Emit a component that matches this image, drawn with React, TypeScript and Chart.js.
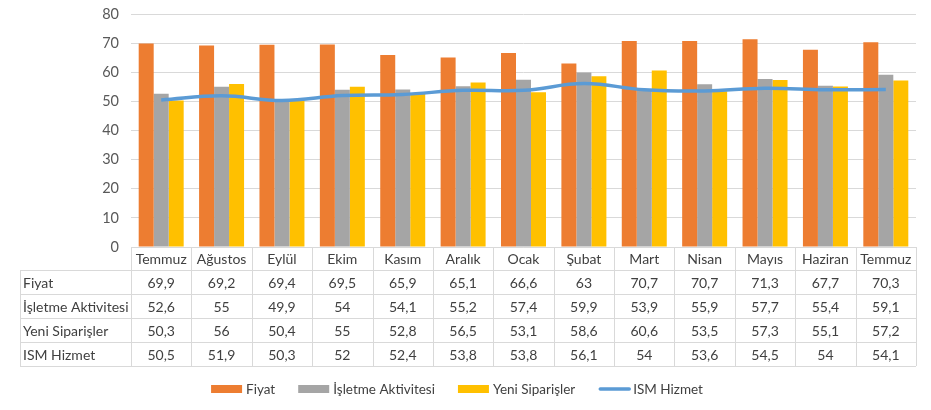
import { useEffect, useRef } from "react"
import { Chart, registerables } from "chart.js"

Chart.register(...registerables)

const months = ["Temmuz", "Ağustos", "Eylül", "Ekim", "Kasım", "Aralık", "Ocak", "Şubat", "Mart", "Nisan", "Mayıs", "Haziran", "Temmuz"]
const fiyat = [69.9, 69.2, 69.4, 69.5, 65.9, 65.1, 66.6, 63, 70.7, 70.7, 71.3, 67.7, 70.3]
const isletme = [52.6, 55, 49.9, 54, 54.1, 55.2, 57.4, 59.9, 53.9, 55.9, 57.7, 55.4, 59.1]
const yeniSiparis = [50.3, 56, 50.4, 55, 52.8, 56.5, 53.1, 58.6, 60.6, 53.5, 57.3, 55.1, 57.2]
const ismHizmet = [50.5, 51.9, 50.3, 52, 52.4, 53.8, 53.8, 56.1, 54, 53.6, 54.5, 54, 54.1]
const seriesNames = ["Fiyat", "İşletme Aktivitesi", "Yeni Siparişler", "ISM Hizmet"]
const seriesColors = ["#ED7D31", "#A5A5A5", "#FFC000", "#5B9BD5"]

const FONT = "Lato, 'Open Sans', sans-serif"
const TEXT = "#404040"
const GRID = "#D9D9D9"

// decimal comma like the Turkish Excel table
const fmt = (v: number) => String(v).replace(".", ",")

const tablePlugin = {
  id: "dataTable",
  afterDraw(chart: Chart) {
    const ctx = chart.ctx
    const x = chart.scales.x
    const area = chart.chartArea
    const colW = (area.right - area.left) / months.length
    const tableLeft = 20
    const rowH = 24
    const headTop = area.bottom
    const headBottom = headTop + 23
    const rows = [fiyat, isletme, yeniSiparis, ismHizmet]
    const bottom = headBottom + rows.length * rowH

    ctx.save()
    ctx.strokeStyle = GRID
    ctx.lineWidth = 1
    ctx.beginPath()
    // header top line across the category columns
    ctx.moveTo(area.left, headTop + 0.5)
    ctx.lineTo(area.right, headTop + 0.5)
    for (let r = 0; r <= rows.length; r++) {
      const y = Math.round(headBottom + r * rowH) + 0.5
      ctx.moveTo(tableLeft, y)
      ctx.lineTo(area.right, y)
    }
    ctx.moveTo(tableLeft + 0.5, headBottom)
    ctx.lineTo(tableLeft + 0.5, bottom)
    for (let i = 0; i <= months.length; i++) {
      const cx = Math.round(area.left + i * colW) + 0.5
      ctx.moveTo(cx, headTop)
      ctx.lineTo(cx, bottom)
    }
    ctx.stroke()

    ctx.fillStyle = TEXT
    ctx.font = `14px ${FONT}`
    ctx.textBaseline = "middle"
    ctx.textAlign = "center"
    months.forEach((m, i) => {
      ctx.fillText(m, x.getPixelForValue(i), (headTop + headBottom) / 2 + 1)
    })
    rows.forEach((vals, r) => {
      const cy = headBottom + r * rowH + rowH / 2 + 1
      ctx.textAlign = "left"
      ctx.fillText(seriesNames[r], tableLeft + 3, cy)
      ctx.textAlign = "center"
      vals.forEach((v, i) => ctx.fillText(fmt(v), x.getPixelForValue(i), cy))
    })

    // legend, centred under the table
    const legendY = 389
    const sw = 31
    const gap = 23
    ctx.font = `13.5px ${FONT}`
    ctx.textAlign = "left"
    const widths = seriesNames.map((n) => sw + 4 + ctx.measureText(n).width)
    const total = widths.reduce((a, b) => a + b, 0) + gap * (widths.length - 1)
    let lx = 457 - total / 2
    seriesNames.forEach((n, i) => {
      if (i === 3) {
        ctx.strokeStyle = seriesColors[i]
        ctx.lineWidth = 3.5
        ctx.lineCap = "round"
        ctx.beginPath()
        ctx.moveTo(lx + 2, legendY)
        ctx.lineTo(lx + sw, legendY)
        ctx.stroke()
      } else {
        ctx.fillStyle = seriesColors[i]
        ctx.fillRect(lx, legendY - 4, sw, 8)
      }
      ctx.fillStyle = TEXT
      ctx.fillText(n, lx + sw + 4, legendY + 1)
      lx += widths[i] + gap
    })
    ctx.restore()
  },
}

export default function App() {
  const chartRef = useRef<HTMLCanvasElement>(null)
  const chartInstance = useRef<Chart | null>(null)

  useEffect(() => {
    document.body.style.margin = "0"
    if (!chartRef.current) return
    if (chartInstance.current) chartInstance.current.destroy()

    const barDs = (i: number, data: number[]) => ({
      type: "bar" as const,
      label: seriesNames[i],
      data,
      backgroundColor: seriesColors[i],
      categoryPercentage: 0.745,
      barPercentage: 1,
      order: 1,
    })

    chartInstance.current = new Chart(chartRef.current, {
      type: "bar",
      data: {
        labels: months,
        datasets: [
          barDs(0, fiyat),
          barDs(1, isletme),
          barDs(2, yeniSiparis),
          {
            type: "line" as const,
            label: seriesNames[3],
            data: ismHizmet,
            borderColor: seriesColors[3],
            backgroundColor: seriesColors[3],
            borderWidth: 3.5,
            pointRadius: 0,
            tension: 0.4,
            order: 0,
          } as any,
        ],
      },
      options: {
        responsive: true,
        maintainAspectRatio: false,
        animation: false,
        layout: { padding: { top: 14, bottom: 163, right: 15, left: 0 } },
        plugins: { legend: { display: false }, tooltip: { enabled: false } },
        scales: {
          x: { display: false, offset: true },
          y: {
            min: 0,
            max: 80,
            ticks: { stepSize: 10, color: "#595959", font: { family: FONT, size: 14.5 }, padding: 12 },
            grid: { color: GRID, drawTicks: false },
            border: { display: false },
            afterFit: (scale: any) => {
              scale.width = 131
              scale.paddingTop = 0
              scale.paddingBottom = 0
            },
          },
        },
      },
      plugins: [tablePlugin],
    })

    return () => {
      if (chartInstance.current) {
        chartInstance.current.destroy()
        chartInstance.current = null
      }
    }
  }, [])

  return (
    <div style={{ width: 931, height: 410, position: "relative", background: "#fff" }}>
      <canvas ref={chartRef}></canvas>
    </div>
  )
}
